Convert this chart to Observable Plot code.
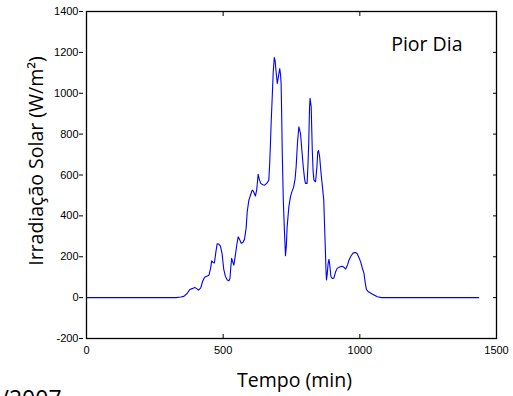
<!DOCTYPE html>
<html>
<head>
<meta charset="utf-8">
<script src="https://cdn.jsdelivr.net/npm/d3@7"></script>
<script src="https://cdn.jsdelivr.net/npm/@observablehq/plot@0.6"></script>
<style>
html, body { margin: 0; padding: 0; overflow: hidden; background: #fff; }
</style>
</head>
<body>
<div id="chart"></div>
<script>
// Tempo (min)
const tempo = [
  0, 300, 328, 345, 356, 368, 378, 386, 396, 403, 410, 418, 425, 432, 440, 448,
  454, 458, 463, 468, 473, 478, 484, 490, 496, 502, 508, 515, 521, 525, 528, 531,
  535, 539, 545, 550, 555, 560, 566, 572, 578, 584, 588, 594, 600, 606, 610, 618,
  623, 628, 632, 637, 645, 652, 660, 667, 670, 673, 676, 679, 683, 687, 690, 694,
  698, 702, 707, 710, 712, 714, 716, 720, 724, 728, 731, 734, 740, 746, 752, 758,
  763, 767, 772, 777, 780, 783, 788, 793, 798, 801, 807, 810, 813, 816, 818, 822,
  826, 829, 832, 838, 843, 846, 849, 853, 858, 862, 868, 871, 874, 876, 878, 881,
  884, 887, 890, 894, 899, 905, 911, 917, 926, 935, 940, 948, 955, 960, 968, 976,
  984, 990, 997, 1003, 1009, 1015, 1020, 1024, 1030, 1045, 1064, 1080, 1435
];
// Irradiação Solar (W/m²)
const irradiacao = [
  0, 0, 0, 3, 6, 20, 40, 44, 50, 44, 37, 48, 80, 100, 105, 110,
  143, 180, 172, 170, 220, 263, 262, 252, 215, 140, 105, 86, 82, 95, 150, 192,
  175, 159, 210, 260, 297, 285, 266, 270, 285, 340, 420, 477, 501, 526, 522, 497,
  530, 604, 580, 559, 552, 550, 560, 575, 650, 754, 870, 966, 1100, 1175, 1160, 1100,
  1048, 1080, 1121, 1090, 1048, 900, 722, 477, 330, 205, 250, 346, 440, 493, 520, 542,
  580, 640, 760, 836, 820, 803, 720, 640, 580, 559, 559, 640, 754, 930, 975, 934,
  722, 620, 575, 567, 640, 713, 720, 689, 610, 559, 477, 350, 232, 140, 86, 120,
  167, 187, 160, 105, 94, 95, 125, 143, 150, 154, 150, 140, 160, 183, 205, 219,
  221, 216, 195, 175, 145, 120, 70, 40, 30, 18, 4, 0, 0
];
const xTicks = [0, 500, 1000, 1500];
const yTicks = [-200, 0, 200, 400, 600, 800, 1000, 1200, 1400];
const titulo = "Pior Dia";
const xLabel = "Tempo (min)";
const yLabel = "Irradiação Solar (W/m²)";
const rodape = "/2007";

const data = tempo.map((t, i) => ({t, v: irradiacao[i]}));
const tickFont = "'Liberation Sans', Arial, sans-serif";
const textFont = "'Open Sans', sans-serif";
const fmt = d => String(d);

const chart = Plot.plot({
  width: 513,
  height: 396,
  marginLeft: 86,
  marginRight: 17,
  marginTop: 11,
  marginBottom: 58,
  style: {overflow: "visible", background: "white", color: "black"},
  x: {domain: [0, 1500]},
  y: {domain: [-200, 1400]},
  marks: [
    Plot.line(data, {x: "t", y: "v", stroke: "#0000ff", strokeWidth: 1.1}),
    Plot.frame({stroke: "black", strokeWidth: 1.3}),
    // bottom labels + inward ticks
    Plot.axisX(xTicks, {anchor: "bottom", tickSize: 0, tickPadding: 8, fontSize: 11, fontFamily: tickFont, tickFormat: fmt, label: null}),
    Plot.axisX(xTicks, {anchor: "bottom", tickSize: 4, dy: -4, tickFormat: () => "", label: null}),
    // top inward ticks
    Plot.axisX(xTicks, {anchor: "top", tickSize: 4, dy: 4, tickFormat: () => "", label: null}),
    // left labels + ticks
    Plot.axisY(yTicks, {anchor: "left", tickSize: 4, tickPadding: 1, dx: -3, fontSize: 11, fontFamily: tickFont, tickFormat: fmt, label: null}),
    // right inward ticks
    Plot.axisY(yTicks, {anchor: "right", tickSize: 4, dx: -4, tickFormat: () => "", label: null}),
    Plot.text([titulo], {text: d => d, frameAnchor: "top-right", textAnchor: "end", lineAnchor: "bottom", dx: -34, dy: 39, fontSize: 19.5, fontFamily: textFont, fill: "black"}),
    Plot.text([xLabel], {text: d => d, frameAnchor: "bottom", textAnchor: "middle", lineAnchor: "bottom", dx: 3, dy: 48, fontSize: 19.5, fontFamily: textFont, fill: "black"}),
    Plot.text([yLabel], {text: d => d, frameAnchor: "left", rotate: -90, textAnchor: "middle", lineAnchor: "bottom", dx: -43.5, dy: -14, fontSize: 19.5, fontFamily: textFont, fill: "black"}),
    Plot.text([rodape], {text: d => d, frameAnchor: "bottom-left", textAnchor: "start", lineAnchor: "bottom", dx: -86, dy: 68, fontSize: 23, fontFamily: textFont, fill: "black"})
  ]
});
document.getElementById("chart").appendChild(chart);
</script>
</body>
</html>
